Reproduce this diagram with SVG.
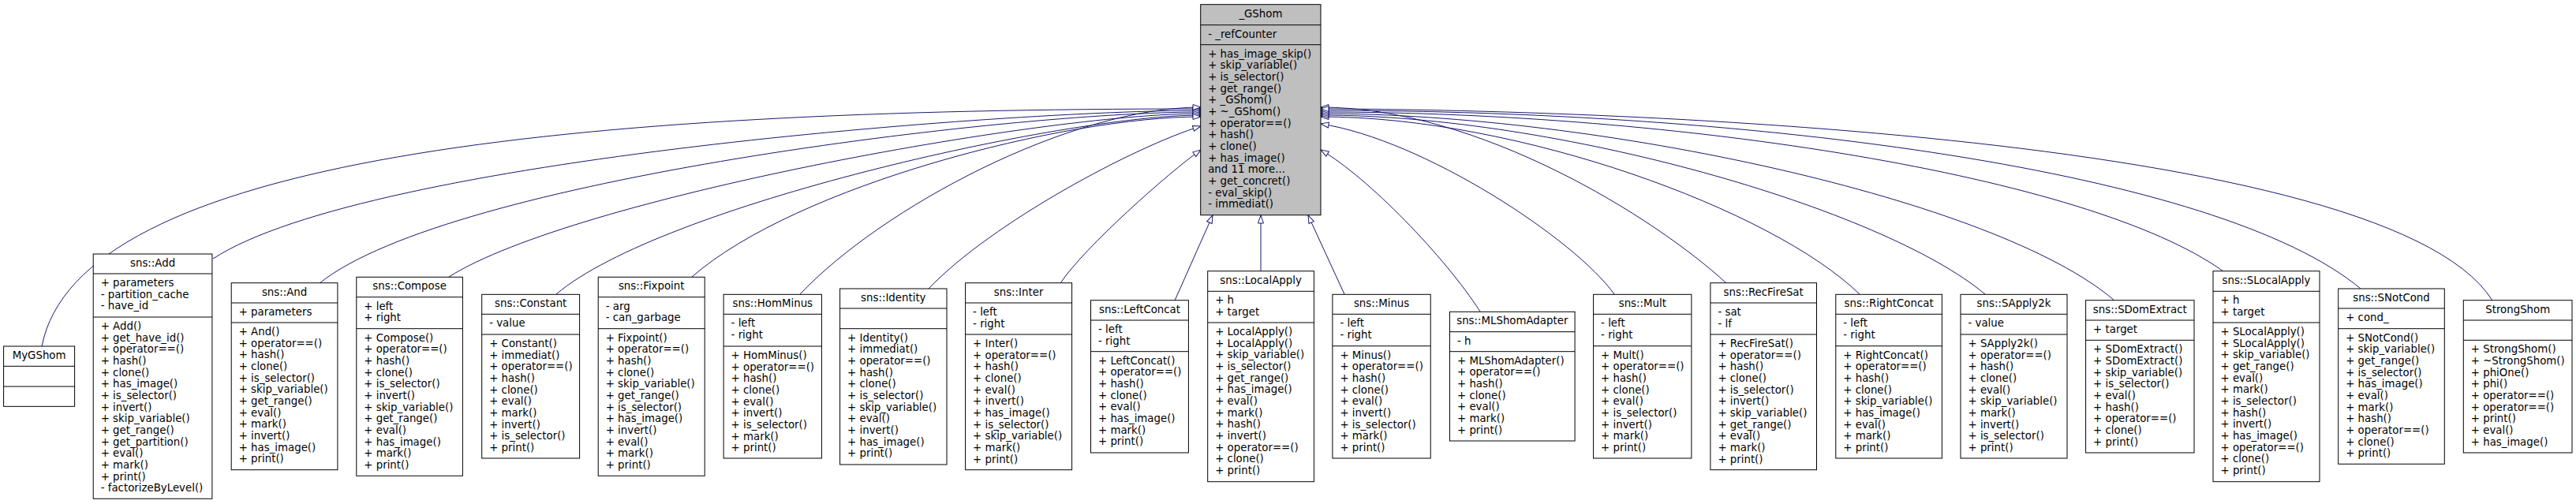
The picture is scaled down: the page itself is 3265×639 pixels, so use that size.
<svg xmlns="http://www.w3.org/2000/svg" width="3265" height="639" viewBox="0 0 3265 639">
<style>
text{font-family:"DejaVu Sans","Liberation Sans",sans-serif;font-size:13.33px;fill:#000}
.t{text-anchor:middle}
.n rect{fill:#fff;stroke:#000;stroke-width:1}
.g rect{fill:#bfbfbf}
.n path{stroke:#000;stroke-width:1;fill:none}
.e path{fill:none;stroke:#191970;stroke-width:1}
</style>
<defs>
<marker id="a" viewBox="0 0 12 10" refX="11" refY="5" markerWidth="12" markerHeight="10" markerUnits="userSpaceOnUse" orient="auto"><path d="M1,1.5 L11,5 L1,8.5 Z" fill="#fff" stroke="#191970" stroke-width="1"/></marker>
</defs>
<rect width="3265" height="639" fill="#fff"/>
<g class="e" marker-end="url(#a)">
<path marker-end="url(#a)" d="M53,439 C100,200 720,138 1522,138"/>
<path marker-end="url(#a)" d="M270,328 C467,200 1282,140 1522,140"/>
<path marker-end="url(#a)" d="M405,359 C570,227 1281,142 1522,142"/>
<path marker-end="url(#a)" d="M569,351 C728,251 1322,144 1522,144"/>
<path marker-end="url(#a)" d="M705,373 C838,260 1350,146 1522,146"/>
<path marker-end="url(#a)" d="M877,351 C1010,235 1350,148 1522,148"/>
<path marker-end="url(#a)" d="M1014,373 C1118,263 1357,136 1522,136"/>
<path marker-end="url(#a)" d="M1177,366 C1257,282 1440,185 1522,160"/>
<path marker-end="url(#a)" d="M1344,359 C1374,314 1482,218 1522,190"/>
<path marker-end="url(#a)" d="M1489,381 L1537,273"/>
<path marker-end="url(#a)" d="M1598,344 L1598,273"/>
<path marker-end="url(#a)" d="M1704,373 L1658,273"/>
<path marker-end="url(#a)" d="M1876,395 C1831,325 1734,225 1674,190"/>
<path marker-end="url(#a)" d="M2046,373 C1996,303 1804,177 1674,157"/>
<path marker-end="url(#a)" d="M2188,359 C2098,276 1874,136 1674,136"/>
<path marker-end="url(#a)" d="M2357,373 C2247,266 1924,148 1674,148"/>
<path marker-end="url(#a)" d="M2516,373 C2386,264 1974,146 1674,146"/>
<path marker-end="url(#a)" d="M2680,381 C2530,252 2024,144 1674,144"/>
<path marker-end="url(#a)" d="M2818,344 C2648,222 2124,142 1674,142"/>
<path marker-end="url(#a)" d="M2992,366 C2812,216 2224,140 1674,140"/>
<path marker-end="url(#a)" d="M3159,381 C3018,155 1878,138 1674,138"/>
</g>

<g id="n_GShom" class="n g">
<rect x="1521.7" y="5.7" width="152.3" height="267"/>
<path d="M1521.7,31.7H1674M1521.7,56.7H1674"/>
<text class="t" x="1597.9" y="21.7">_GShom</text>
<text x="1531.2" y="47.7">- _refCounter</text>
<text x="1531.2" y="72.7"><tspan x="1531.2" dy="0">+ has_image_skip()</tspan><tspan x="1531.2" dy="14.67">+ skip_variable()</tspan><tspan x="1531.2" dy="14.67">+ is_selector()</tspan><tspan x="1531.2" dy="14.67">+ get_range()</tspan><tspan x="1531.2" dy="14.67">+ _GShom()</tspan><tspan x="1531.2" dy="14.67">+ ~_GShom()</tspan><tspan x="1531.2" dy="14.67">+ operator==()</tspan><tspan x="1531.2" dy="14.67">+ hash()</tspan><tspan x="1531.2" dy="14.67">+ clone()</tspan><tspan x="1531.2" dy="14.67">+ has_image()</tspan><tspan x="1531.2" dy="14.67">and 11 more...</tspan><tspan x="1531.2" dy="14.67">+ get_concret()</tspan><tspan x="1531.2" dy="14.67">- eval_skip()</tspan><tspan x="1531.2" dy="14.67">- immediat()</tspan></text>
</g>

<g id="n_MyGShom" class="n">
<rect x="4.6" y="439" width="90" height="76.3"/>
<path d="M4.6,464.3H94.6M4.6,490H94.6"/>
<text class="t" x="49.6" y="455">MyGShom</text>
</g>

<g id="n_Add" class="n">
<rect x="118.2" y="322" width="150.7" height="310.3"/>
<path d="M118.2,347H268.9M118.2,402H268.9"/>
<text class="t" x="193.6" y="338">sns::Add</text>
<text x="127.7" y="363"><tspan x="127.7" dy="0">+ parameters</tspan><tspan x="127.7" dy="14.67">- partition_cache</tspan><tspan x="127.7" dy="14.67">- have_id</tspan></text>
<text x="127.7" y="418"><tspan x="127.7" dy="0">+ Add()</tspan><tspan x="127.7" dy="14.67">+ get_have_id()</tspan><tspan x="127.7" dy="14.67">+ operator==()</tspan><tspan x="127.7" dy="14.67">+ hash()</tspan><tspan x="127.7" dy="14.67">+ clone()</tspan><tspan x="127.7" dy="14.67">+ has_image()</tspan><tspan x="127.7" dy="14.67">+ is_selector()</tspan><tspan x="127.7" dy="14.67">+ invert()</tspan><tspan x="127.7" dy="14.67">+ skip_variable()</tspan><tspan x="127.7" dy="14.67">+ get_range()</tspan><tspan x="127.7" dy="14.67">+ get_partition()</tspan><tspan x="127.7" dy="14.67">+ eval()</tspan><tspan x="127.7" dy="14.67">+ mark()</tspan><tspan x="127.7" dy="14.67">+ print()</tspan><tspan x="127.7" dy="14.67">- factorizeByLevel()</tspan></text>
</g>

<g id="n_And" class="n">
<rect x="293.2" y="358.7" width="134.7" height="237"/>
<path d="M293.2,384H427.9M293.2,409H427.9"/>
<text class="t" x="360.6" y="374.7">sns::And</text>
<text x="302.7" y="400">+ parameters</text>
<text x="302.7" y="425"><tspan x="302.7" dy="0">+ And()</tspan><tspan x="302.7" dy="14.67">+ operator==()</tspan><tspan x="302.7" dy="14.67">+ hash()</tspan><tspan x="302.7" dy="14.67">+ clone()</tspan><tspan x="302.7" dy="14.67">+ is_selector()</tspan><tspan x="302.7" dy="14.67">+ skip_variable()</tspan><tspan x="302.7" dy="14.67">+ get_range()</tspan><tspan x="302.7" dy="14.67">+ eval()</tspan><tspan x="302.7" dy="14.67">+ mark()</tspan><tspan x="302.7" dy="14.67">+ invert()</tspan><tspan x="302.7" dy="14.67">+ has_image()</tspan><tspan x="302.7" dy="14.67">+ print()</tspan></text>
</g>

<g id="n_Compose" class="n">
<rect x="451.8" y="351.3" width="134.6" height="252"/>
<path d="M451.8,376.7H586.4M451.8,416.7H586.4"/>
<text class="t" x="519.1" y="367.3">sns::Compose</text>
<text x="461.3" y="392.7"><tspan x="461.3" dy="0">+ left</tspan><tspan x="461.3" dy="14.67">+ right</tspan></text>
<text x="461.3" y="432.7"><tspan x="461.3" dy="0">+ Compose()</tspan><tspan x="461.3" dy="14.67">+ operator==()</tspan><tspan x="461.3" dy="14.67">+ hash()</tspan><tspan x="461.3" dy="14.67">+ clone()</tspan><tspan x="461.3" dy="14.67">+ is_selector()</tspan><tspan x="461.3" dy="14.67">+ invert()</tspan><tspan x="461.3" dy="14.67">+ skip_variable()</tspan><tspan x="461.3" dy="14.67">+ get_range()</tspan><tspan x="461.3" dy="14.67">+ eval()</tspan><tspan x="461.3" dy="14.67">+ has_image()</tspan><tspan x="461.3" dy="14.67">+ mark()</tspan><tspan x="461.3" dy="14.67">+ print()</tspan></text>
</g>

<g id="n_Constant" class="n">
<rect x="610.7" y="373.3" width="123.9" height="207.7"/>
<path d="M610.7,398.3H734.6M610.7,424H734.6"/>
<text class="t" x="672.7" y="389.3">sns::Constant</text>
<text x="620.2" y="414.3">- value</text>
<text x="620.2" y="440"><tspan x="620.2" dy="0">+ Constant()</tspan><tspan x="620.2" dy="14.67">+ immediat()</tspan><tspan x="620.2" dy="14.67">+ operator==()</tspan><tspan x="620.2" dy="14.67">+ hash()</tspan><tspan x="620.2" dy="14.67">+ clone()</tspan><tspan x="620.2" dy="14.67">+ eval()</tspan><tspan x="620.2" dy="14.67">+ mark()</tspan><tspan x="620.2" dy="14.67">+ invert()</tspan><tspan x="620.2" dy="14.67">+ is_selector()</tspan><tspan x="620.2" dy="14.67">+ print()</tspan></text>
</g>

<g id="n_Fixpoint" class="n">
<rect x="758.2" y="351.3" width="135" height="252"/>
<path d="M758.2,376.7H893.2M758.2,416.7H893.2"/>
<text class="t" x="825.7" y="367.3">sns::Fixpoint</text>
<text x="767.7" y="392.7"><tspan x="767.7" dy="0">- arg</tspan><tspan x="767.7" dy="14.67">- can_garbage</tspan></text>
<text x="767.7" y="432.7"><tspan x="767.7" dy="0">+ Fixpoint()</tspan><tspan x="767.7" dy="14.67">+ operator==()</tspan><tspan x="767.7" dy="14.67">+ hash()</tspan><tspan x="767.7" dy="14.67">+ clone()</tspan><tspan x="767.7" dy="14.67">+ skip_variable()</tspan><tspan x="767.7" dy="14.67">+ get_range()</tspan><tspan x="767.7" dy="14.67">+ is_selector()</tspan><tspan x="767.7" dy="14.67">+ has_image()</tspan><tspan x="767.7" dy="14.67">+ invert()</tspan><tspan x="767.7" dy="14.67">+ eval()</tspan><tspan x="767.7" dy="14.67">+ mark()</tspan><tspan x="767.7" dy="14.67">+ print()</tspan></text>
</g>

<g id="n_HomMinus" class="n">
<rect x="917.1" y="373.3" width="124.3" height="207.7"/>
<path d="M917.1,398.3H1041.4M917.1,439H1041.4"/>
<text class="t" x="979.3" y="389.3">sns::HomMinus</text>
<text x="926.6" y="414.3"><tspan x="926.6" dy="0">- left</tspan><tspan x="926.6" dy="14.67">- right</tspan></text>
<text x="926.6" y="455"><tspan x="926.6" dy="0">+ HomMinus()</tspan><tspan x="926.6" dy="14.67">+ operator==()</tspan><tspan x="926.6" dy="14.67">+ hash()</tspan><tspan x="926.6" dy="14.67">+ clone()</tspan><tspan x="926.6" dy="14.67">+ eval()</tspan><tspan x="926.6" dy="14.67">+ invert()</tspan><tspan x="926.6" dy="14.67">+ is_selector()</tspan><tspan x="926.6" dy="14.67">+ mark()</tspan><tspan x="926.6" dy="14.67">+ print()</tspan></text>
</g>

<g id="n_Identity" class="n">
<rect x="1064.6" y="366" width="135.4" height="223"/>
<path d="M1064.6,391H1200M1064.6,416.7H1200"/>
<text class="t" x="1132.3" y="382">sns::Identity</text>
<text x="1074.1" y="432.7"><tspan x="1074.1" dy="0">+ Identity()</tspan><tspan x="1074.1" dy="14.67">+ immediat()</tspan><tspan x="1074.1" dy="14.67">+ operator==()</tspan><tspan x="1074.1" dy="14.67">+ hash()</tspan><tspan x="1074.1" dy="14.67">+ clone()</tspan><tspan x="1074.1" dy="14.67">+ is_selector()</tspan><tspan x="1074.1" dy="14.67">+ skip_variable()</tspan><tspan x="1074.1" dy="14.67">+ eval()</tspan><tspan x="1074.1" dy="14.67">+ invert()</tspan><tspan x="1074.1" dy="14.67">+ has_image()</tspan><tspan x="1074.1" dy="14.67">+ print()</tspan></text>
</g>

<g id="n_Inter" class="n">
<rect x="1223.6" y="358.7" width="135" height="237"/>
<path d="M1223.6,384H1358.6M1223.6,424H1358.6"/>
<text class="t" x="1291.1" y="374.7">sns::Inter</text>
<text x="1233.1" y="400"><tspan x="1233.1" dy="0">- left</tspan><tspan x="1233.1" dy="14.67">- right</tspan></text>
<text x="1233.1" y="440"><tspan x="1233.1" dy="0">+ Inter()</tspan><tspan x="1233.1" dy="14.67">+ operator==()</tspan><tspan x="1233.1" dy="14.67">+ hash()</tspan><tspan x="1233.1" dy="14.67">+ clone()</tspan><tspan x="1233.1" dy="14.67">+ eval()</tspan><tspan x="1233.1" dy="14.67">+ invert()</tspan><tspan x="1233.1" dy="14.67">+ has_image()</tspan><tspan x="1233.1" dy="14.67">+ is_selector()</tspan><tspan x="1233.1" dy="14.67">+ skip_variable()</tspan><tspan x="1233.1" dy="14.67">+ mark()</tspan><tspan x="1233.1" dy="14.67">+ print()</tspan></text>
</g>

<g id="n_LeftConcat" class="n">
<rect x="1382.5" y="380.7" width="123.9" height="193.3"/>
<path d="M1382.5,406H1506.4M1382.5,445.7H1506.4"/>
<text class="t" x="1444.5" y="396.7">sns::LeftConcat</text>
<text x="1392" y="422"><tspan x="1392" dy="0">- left</tspan><tspan x="1392" dy="14.67">- right</tspan></text>
<text x="1392" y="461.7"><tspan x="1392" dy="0">+ LeftConcat()</tspan><tspan x="1392" dy="14.67">+ operator==()</tspan><tspan x="1392" dy="14.67">+ hash()</tspan><tspan x="1392" dy="14.67">+ clone()</tspan><tspan x="1392" dy="14.67">+ eval()</tspan><tspan x="1392" dy="14.67">+ has_image()</tspan><tspan x="1392" dy="14.67">+ mark()</tspan><tspan x="1392" dy="14.67">+ print()</tspan></text>
</g>

<g id="n_LocalApply" class="n">
<rect x="1530.7" y="343.7" width="134.7" height="267"/>
<path d="M1530.7,369.3H1665.4M1530.7,409H1665.4"/>
<text class="t" x="1598.1" y="359.7">sns::LocalApply</text>
<text x="1540.2" y="385.3"><tspan x="1540.2" dy="0">+ h</tspan><tspan x="1540.2" dy="14.67">+ target</tspan></text>
<text x="1540.2" y="425"><tspan x="1540.2" dy="0">+ LocalApply()</tspan><tspan x="1540.2" dy="14.67">+ LocalApply()</tspan><tspan x="1540.2" dy="14.67">+ skip_variable()</tspan><tspan x="1540.2" dy="14.67">+ is_selector()</tspan><tspan x="1540.2" dy="14.67">+ get_range()</tspan><tspan x="1540.2" dy="14.67">+ has_image()</tspan><tspan x="1540.2" dy="14.67">+ eval()</tspan><tspan x="1540.2" dy="14.67">+ mark()</tspan><tspan x="1540.2" dy="14.67">+ hash()</tspan><tspan x="1540.2" dy="14.67">+ invert()</tspan><tspan x="1540.2" dy="14.67">+ operator==()</tspan><tspan x="1540.2" dy="14.67">+ clone()</tspan><tspan x="1540.2" dy="14.67">+ print()</tspan></text>
</g>

<g id="n_Minus" class="n">
<rect x="1688.9" y="373.3" width="124.3" height="207.7"/>
<path d="M1688.9,398.3H1813.2M1688.9,438.7H1813.2"/>
<text class="t" x="1751.1" y="389.3">sns::Minus</text>
<text x="1698.4" y="414.3"><tspan x="1698.4" dy="0">- left</tspan><tspan x="1698.4" dy="14.67">- right</tspan></text>
<text x="1698.4" y="454.7"><tspan x="1698.4" dy="0">+ Minus()</tspan><tspan x="1698.4" dy="14.67">+ operator==()</tspan><tspan x="1698.4" dy="14.67">+ hash()</tspan><tspan x="1698.4" dy="14.67">+ clone()</tspan><tspan x="1698.4" dy="14.67">+ eval()</tspan><tspan x="1698.4" dy="14.67">+ invert()</tspan><tspan x="1698.4" dy="14.67">+ is_selector()</tspan><tspan x="1698.4" dy="14.67">+ mark()</tspan><tspan x="1698.4" dy="14.67">+ print()</tspan></text>
</g>

<g id="n_MLShomAdapter" class="n">
<rect x="1837.5" y="395.3" width="158.6" height="163.7"/>
<path d="M1837.5,420.7H1996.1M1837.5,445.7H1996.1"/>
<text class="t" x="1916.8" y="411.3">sns::MLShomAdapter</text>
<text x="1847" y="436.7">- h</text>
<text x="1847" y="461.7"><tspan x="1847" dy="0">+ MLShomAdapter()</tspan><tspan x="1847" dy="14.67">+ operator==()</tspan><tspan x="1847" dy="14.67">+ hash()</tspan><tspan x="1847" dy="14.67">+ clone()</tspan><tspan x="1847" dy="14.67">+ eval()</tspan><tspan x="1847" dy="14.67">+ mark()</tspan><tspan x="1847" dy="14.67">+ print()</tspan></text>
</g>

<g id="n_Mult" class="n">
<rect x="2019.6" y="373.3" width="124.3" height="207.7"/>
<path d="M2019.6,398.3H2143.9M2019.6,438.7H2143.9"/>
<text class="t" x="2081.8" y="389.3">sns::Mult</text>
<text x="2029.1" y="414.3"><tspan x="2029.1" dy="0">- left</tspan><tspan x="2029.1" dy="14.67">- right</tspan></text>
<text x="2029.1" y="454.7"><tspan x="2029.1" dy="0">+ Mult()</tspan><tspan x="2029.1" dy="14.67">+ operator==()</tspan><tspan x="2029.1" dy="14.67">+ hash()</tspan><tspan x="2029.1" dy="14.67">+ clone()</tspan><tspan x="2029.1" dy="14.67">+ eval()</tspan><tspan x="2029.1" dy="14.67">+ is_selector()</tspan><tspan x="2029.1" dy="14.67">+ invert()</tspan><tspan x="2029.1" dy="14.67">+ mark()</tspan><tspan x="2029.1" dy="14.67">+ print()</tspan></text>
</g>

<g id="n_RecFireSat" class="n">
<rect x="2167.9" y="358.7" width="134.6" height="237"/>
<path d="M2167.9,384H2302.5M2167.9,424H2302.5"/>
<text class="t" x="2235.2" y="374.7">sns::RecFireSat</text>
<text x="2177.4" y="400"><tspan x="2177.4" dy="0">- sat</tspan><tspan x="2177.4" dy="14.67">- lf</tspan></text>
<text x="2177.4" y="440"><tspan x="2177.4" dy="0">+ RecFireSat()</tspan><tspan x="2177.4" dy="14.67">+ operator==()</tspan><tspan x="2177.4" dy="14.67">+ hash()</tspan><tspan x="2177.4" dy="14.67">+ clone()</tspan><tspan x="2177.4" dy="14.67">+ is_selector()</tspan><tspan x="2177.4" dy="14.67">+ invert()</tspan><tspan x="2177.4" dy="14.67">+ skip_variable()</tspan><tspan x="2177.4" dy="14.67">+ get_range()</tspan><tspan x="2177.4" dy="14.67">+ eval()</tspan><tspan x="2177.4" dy="14.67">+ mark()</tspan><tspan x="2177.4" dy="14.67">+ print()</tspan></text>
</g>

<g id="n_RightConcat" class="n">
<rect x="2326.8" y="373.3" width="134.6" height="207.7"/>
<path d="M2326.8,398.3H2461.4M2326.8,438.7H2461.4"/>
<text class="t" x="2394.1" y="389.3">sns::RightConcat</text>
<text x="2336.3" y="414.3"><tspan x="2336.3" dy="0">- left</tspan><tspan x="2336.3" dy="14.67">- right</tspan></text>
<text x="2336.3" y="454.7"><tspan x="2336.3" dy="0">+ RightConcat()</tspan><tspan x="2336.3" dy="14.67">+ operator==()</tspan><tspan x="2336.3" dy="14.67">+ hash()</tspan><tspan x="2336.3" dy="14.67">+ clone()</tspan><tspan x="2336.3" dy="14.67">+ skip_variable()</tspan><tspan x="2336.3" dy="14.67">+ has_image()</tspan><tspan x="2336.3" dy="14.67">+ eval()</tspan><tspan x="2336.3" dy="14.67">+ mark()</tspan><tspan x="2336.3" dy="14.67">+ print()</tspan></text>
</g>

<g id="n_SApply2k" class="n">
<rect x="2485" y="373.3" width="135" height="207.7"/>
<path d="M2485,398.3H2620M2485,424H2620"/>
<text class="t" x="2552.5" y="389.3">sns::SApply2k</text>
<text x="2494.5" y="414.3">- value</text>
<text x="2494.5" y="440"><tspan x="2494.5" dy="0">+ SApply2k()</tspan><tspan x="2494.5" dy="14.67">+ operator==()</tspan><tspan x="2494.5" dy="14.67">+ hash()</tspan><tspan x="2494.5" dy="14.67">+ clone()</tspan><tspan x="2494.5" dy="14.67">+ eval()</tspan><tspan x="2494.5" dy="14.67">+ skip_variable()</tspan><tspan x="2494.5" dy="14.67">+ mark()</tspan><tspan x="2494.5" dy="14.67">+ invert()</tspan><tspan x="2494.5" dy="14.67">+ is_selector()</tspan><tspan x="2494.5" dy="14.67">+ print()</tspan></text>
</g>

<g id="n_SDomExtract" class="n">
<rect x="2643.6" y="380.7" width="137.4" height="193.3"/>
<path d="M2643.6,406H2781M2643.6,431.3H2781"/>
<text class="t" x="2712.3" y="396.7">sns::SDomExtract</text>
<text x="2653.1" y="422">+ target</text>
<text x="2653.1" y="447.3"><tspan x="2653.1" dy="0">+ SDomExtract()</tspan><tspan x="2653.1" dy="14.67">+ SDomExtract()</tspan><tspan x="2653.1" dy="14.67">+ skip_variable()</tspan><tspan x="2653.1" dy="14.67">+ is_selector()</tspan><tspan x="2653.1" dy="14.67">+ eval()</tspan><tspan x="2653.1" dy="14.67">+ hash()</tspan><tspan x="2653.1" dy="14.67">+ operator==()</tspan><tspan x="2653.1" dy="14.67">+ clone()</tspan><tspan x="2653.1" dy="14.67">+ print()</tspan></text>
</g>

<g id="n_SLocalApply" class="n">
<rect x="2805" y="343.7" width="135" height="267"/>
<path d="M2805,369.3H2940M2805,409H2940"/>
<text class="t" x="2872.5" y="359.7">sns::SLocalApply</text>
<text x="2814.5" y="385.3"><tspan x="2814.5" dy="0">+ h</tspan><tspan x="2814.5" dy="14.67">+ target</tspan></text>
<text x="2814.5" y="425"><tspan x="2814.5" dy="0">+ SLocalApply()</tspan><tspan x="2814.5" dy="14.67">+ SLocalApply()</tspan><tspan x="2814.5" dy="14.67">+ skip_variable()</tspan><tspan x="2814.5" dy="14.67">+ get_range()</tspan><tspan x="2814.5" dy="14.67">+ eval()</tspan><tspan x="2814.5" dy="14.67">+ mark()</tspan><tspan x="2814.5" dy="14.67">+ is_selector()</tspan><tspan x="2814.5" dy="14.67">+ hash()</tspan><tspan x="2814.5" dy="14.67">+ invert()</tspan><tspan x="2814.5" dy="14.67">+ has_image()</tspan><tspan x="2814.5" dy="14.67">+ operator==()</tspan><tspan x="2814.5" dy="14.67">+ clone()</tspan><tspan x="2814.5" dy="14.67">+ print()</tspan></text>
</g>

<g id="n_SNotCond" class="n">
<rect x="2963.7" y="366" width="134.6" height="222.3"/>
<path d="M2963.7,391H3098.3M2963.7,416.7H3098.3"/>
<text class="t" x="3031" y="382">sns::SNotCond</text>
<text x="2973.2" y="407">+ cond_</text>
<text x="2973.2" y="432.7"><tspan x="2973.2" dy="0">+ SNotCond()</tspan><tspan x="2973.2" dy="14.67">+ skip_variable()</tspan><tspan x="2973.2" dy="14.67">+ get_range()</tspan><tspan x="2973.2" dy="14.67">+ is_selector()</tspan><tspan x="2973.2" dy="14.67">+ has_image()</tspan><tspan x="2973.2" dy="14.67">+ eval()</tspan><tspan x="2973.2" dy="14.67">+ mark()</tspan><tspan x="2973.2" dy="14.67">+ hash()</tspan><tspan x="2973.2" dy="14.67">+ operator==()</tspan><tspan x="2973.2" dy="14.67">+ clone()</tspan><tspan x="2973.2" dy="14.67">+ print()</tspan></text>
</g>

<g id="n_StrongShom" class="n">
<rect x="3122.3" y="380.7" width="137.7" height="193.3"/>
<path d="M3122.3,406H3260M3122.3,431.3H3260"/>
<text class="t" x="3191.2" y="396.7">StrongShom</text>
<text x="3131.8" y="447.3"><tspan x="3131.8" dy="0">+ StrongShom()</tspan><tspan x="3131.8" dy="14.67">+ ~StrongShom()</tspan><tspan x="3131.8" dy="14.67">+ phiOne()</tspan><tspan x="3131.8" dy="14.67">+ phi()</tspan><tspan x="3131.8" dy="14.67">+ operator==()</tspan><tspan x="3131.8" dy="14.67">+ operator==()</tspan><tspan x="3131.8" dy="14.67">+ print()</tspan><tspan x="3131.8" dy="14.67">+ eval()</tspan><tspan x="3131.8" dy="14.67">+ has_image()</tspan></text>
</g>
</svg>
